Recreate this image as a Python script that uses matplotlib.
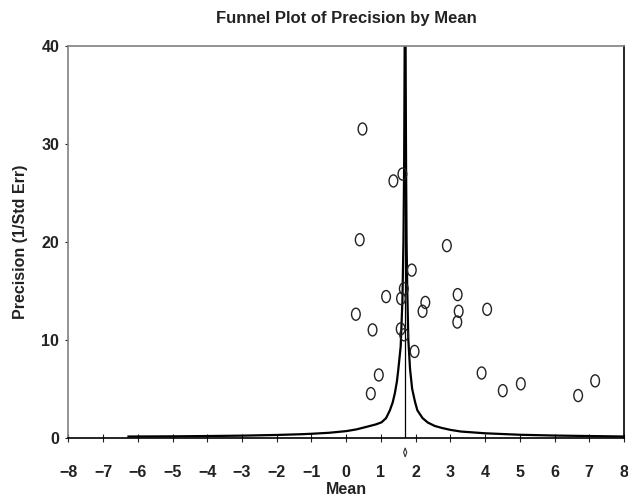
import matplotlib.pyplot as plt
import matplotlib.transforms as mtransforms
from matplotlib.path import Path

plt.rcParams['font.family'] = ['Liberation Sans', 'DejaVu Sans']

# study estimates
study_mean = [1.89, 1.15, 1.58, 1.66, 3.21, 2.28, 2.20, 3.24, 3.20, 4.06,
              0.28, 0.76, 1.57, 1.67, 1.97, 0.94, 0.71, 3.90, 4.51, 5.03,
              6.68, 7.17, 0.47, 1.62, 1.36, 0.39, 2.90]
study_precision = [17.1, 14.4, 14.2, 15.2, 14.6, 13.8, 12.9, 12.9, 11.8, 13.1,
                   12.6, 11.0, 11.1, 10.5, 8.8, 6.4, 4.5, 6.6, 4.8, 5.5,
                   4.3, 5.8, 31.5, 26.9, 26.2, 20.2, 19.6]

# combined effect and its interval
combined_mean = 1.70
combined_low = 1.655
combined_high = 1.745

# funnel limits (left and right branch)
left_x = [-6.3, -5.0, -4.0, -3.0, -2.0, -1.33, -1.0, -0.5, 0.0, 0.3, 0.6, 0.85,
          1.02, 1.15, 1.26, 1.34, 1.40, 1.46, 1.50, 1.57, 1.62, 1.65, 1.67, 1.685]
left_p = [0.12, 0.14, 0.17, 0.21, 0.28, 0.35, 0.4, 0.5, 0.67, 0.85, 1.12, 1.35,
          1.57, 2.0, 2.8, 3.6, 4.5, 5.7, 6.9, 9.3, 14.0, 20.0, 28.0, 40.0]
right_x = [1.71, 1.725, 1.74, 1.76, 1.79, 1.84, 1.90, 1.98, 2.05, 2.2, 2.35, 2.55,
           2.75, 3.0, 3.3, 4.0, 5.0, 6.0, 7.0, 8.0]
right_p = [40.0, 28.0, 20.0, 15.0, 10.0, 7.0, 5.0, 3.7, 2.8, 2.0, 1.55, 1.2,
           1.0, 0.8, 0.63, 0.45, 0.3, 0.22, 0.17, 0.12]

x_ticks = list(range(-8, 9))
y_ticks = [0, 10, 20, 30, 40]

fig = plt.figure(figsize=(6.28, 5.0), dpi=100)
ax = fig.add_axes([0.1088, 0.1246, 0.8848, 0.784])

ax.plot(left_x, left_p, color='black', lw=1.6, solid_capstyle='butt')
ax.plot(right_x, right_p, color='black', lw=1.6, solid_capstyle='butt')
ax.plot([combined_mean, combined_mean], [0, 40], color='black', lw=0.9)

# open elliptical markers
ell = Path.unit_circle().transformed(mtransforms.Affine2D().scale(0.72, 1.0))
ax.scatter(study_mean, study_precision, marker=ell, s=75, facecolors='none',
           edgecolors='#222222', linewidths=1.0, zorder=3)

# combined effect diamond under the axis
trans = mtransforms.blended_transform_factory(ax.transData, ax.transAxes)
ax.fill([combined_low, combined_mean, combined_high, combined_mean],
        [-0.0375, -0.026, -0.0375, -0.049], transform=trans,
        facecolor='none', edgecolor='#333333', lw=0.8, clip_on=False)

ax.set_xlim(-8, 8)
ax.set_ylim(0, 40)
ax.set_xticks(x_ticks)
ax.set_xticklabels([str(t).replace('-', '\u2212') for t in x_ticks])
ax.set_yticks(y_ticks)

for s in ['left', 'top']:
    ax.spines[s].set_color('#808080')
    ax.spines[s].set_linewidth(1.2)
for s in ['bottom', 'right']:
    ax.spines[s].set_color('black')
    ax.spines[s].set_linewidth(1.2)

ax.tick_params(axis='x', direction='inout', length=6, width=0.8, pad=17,
               labelsize=11.5, colors='#222222')
ax.tick_params(axis='y', direction='out', length=2.5, width=0.8, pad=4,
               labelsize=11.5, colors='#222222')
for lab in ax.get_xticklabels() + ax.get_yticklabels():
    lab.set_fontweight('bold')

ax.set_xlabel('Mean', fontsize=11.5, fontweight='bold', color='#222222', labelpad=1)
ax.set_ylabel('Precision (1/Std Err)', fontsize=11.5, fontweight='bold',
              color='#222222', labelpad=10)
ax.set_title('Funnel Plot of Precision by Mean', fontsize=12, fontweight='bold',
             color='#222222', pad=16)

fig.savefig('out.png', dpi=100)
